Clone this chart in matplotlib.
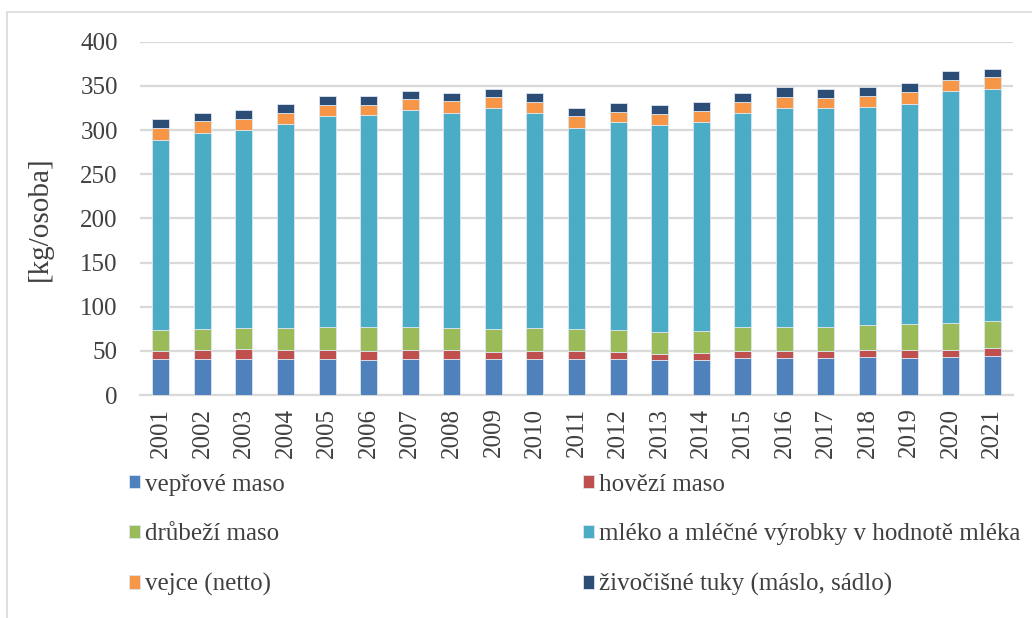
import numpy as np
import matplotlib
matplotlib.use('Agg')
import matplotlib.pyplot as plt
from matplotlib.patches import Rectangle

years = [str(y) for y in range(2001, 2022)]

# [kg/osoba]
veprove = [40.4, 40.4, 40.4, 40.4, 40.4, 39.2, 41.1, 40.4, 40.4, 41.1, 41.1,
           40.4, 39.6, 39.6, 41.5, 41.5, 41.5, 42.6, 41.5, 42.6, 44.1]
hovezi = [9.4, 10.9, 12.1, 10.5, 10.5, 10.6, 10.2, 10.5, 8.7, 9.1, 9.1,
          7.9, 7.2, 7.9, 8.7, 8.7, 8.7, 8.3, 9.8, 8.7, 8.7]
drubezi = [23.8, 23.8, 23.3, 24.9, 25.7, 26.8, 26.1, 24.9, 25.6, 25.3, 24.9,
           25.3, 24.5, 25.3, 26.4, 27.1, 27.1, 28.3, 28.7, 29.8, 30.6]
mleko = [215.1, 221.1, 224.2, 231.0, 239.2, 240.0, 245.2, 243.1, 249.8, 244.1, 227.4,
         235.0, 234.2, 236.5, 242.9, 247.9, 247.1, 247.1, 249.7, 263.3, 262.9]
vejce = [13.9, 14.0, 12.8, 12.1, 12.1, 12.1, 12.1, 13.6, 12.5, 12.1, 13.2,
         12.0, 12.5, 12.8, 12.5, 12.0, 12.1, 12.8, 13.2, 12.8, 13.9]
tuky = [9.9, 9.4, 9.5, 10.1, 10.2, 9.4, 9.5, 9.8, 9.0, 9.8, 9.8,
        10.2, 9.8, 10.2, 10.1, 11.0, 10.2, 9.8, 9.8, 9.8, 8.8]

labels = ['vepřové maso', 'hovězí maso', 'drůbeží maso',
          'mléko a mléčné výrobky v hodnotě mléka', 'vejce (netto)',
          'živočišné tuky (máslo, sádlo)']
series = [veprove, hovezi, drubezi, mleko, vejce, tuky]
colors = ['#4F81BD', '#C0504D', '#9BBB59', '#4BACC6', '#F79646', '#2C4D75']

plt.rcParams['font.family'] = ['Liberation Serif', 'DejaVu Serif']

fig = plt.figure(figsize=(10.32, 6.18), dpi=100)
ax = fig.add_axes([0.1357, 0.3608, 0.8459, 0.5717])

x = np.arange(len(years))
bottom = np.zeros(len(years))
handles = []
for vals, lab, col in zip(series, labels, colors):
    b = ax.bar(x, vals, 0.41, bottom=bottom, color=col, label=lab,
               edgecolor='#dce6f0', linewidth=0.6, zorder=3)
    handles.append(b)
    bottom += np.array(vals)

ax.set_xlim(-0.5, len(years) - 0.5)
ax.set_ylim(0, 400)
ax.set_yticks(range(0, 401, 50))
ax.set_xticks(x)
ax.set_xticklabels(years, rotation=90)
ax.tick_params(length=0, labelsize=18, colors='#404040')
ax.tick_params(axis='y', pad=16)
ax.tick_params(axis='x', pad=9)
ax.grid(axis='y', color='#d9d9d9', linewidth=1.6, zorder=0)
for s in ['top', 'right', 'left']:
    ax.spines[s].set_visible(False)
ax.spines['bottom'].set_color('#d9d9d9')
ax.spines['bottom'].set_linewidth(1.6)
ax.set_ylabel('[kg/osoba]', fontsize=21, color='#404040', labelpad=20)

order = [0, 2, 4, 1, 3, 5]
leg = fig.legend([handles[i] for i in order], [labels[i] for i in order],
                 ncol=2, loc='upper left', bbox_to_anchor=(0.113, 0.254),
                 frameon=False, fontsize=18, handlelength=0.45, handleheight=0.45,
                 handletextpad=0.2, labelspacing=1.11, columnspacing=11.9,
                 borderpad=0)
for t in leg.get_texts():
    t.set_color('#404040')

fig.patches.append(Rectangle((7 / 1032, -0.1), 1.2, 1.1 - 12 / 618,
                             transform=fig.transFigure, fill=False,
                             edgecolor='#d9d9d9', linewidth=1.2))

fig.savefig('out.png', dpi=100)
